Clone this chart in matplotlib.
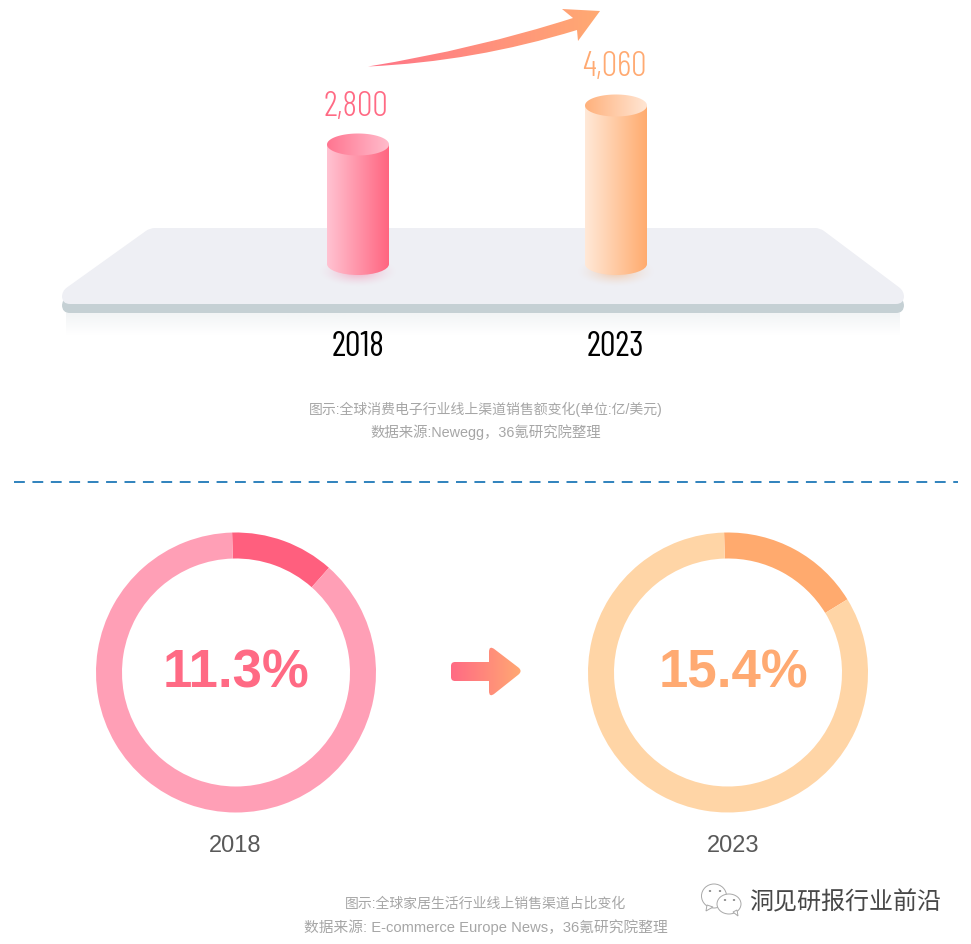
#!/usr/bin/python3

import numpy as np
import matplotlib
matplotlib.use('Agg')
import matplotlib.pyplot as plt
from matplotlib.patches import PathPatch, Ellipse, Polygon
from matplotlib.path import Path
from matplotlib.colors import LinearSegmentedColormap, to_rgb
from matplotlib import font_manager

W, H = 971, 945

# data
years = ['2018', '2023']
sales = [2800, 4060]
sales_labels = ['2,800', '4,060']
share_labels = ['11.3%', '15.4%']
# ring sizes as they are drawn in the picture
ring_share = [12.0, 16.7]

caption_top = ['图示:全球消费电子行业线上渠道销售额变化(单位:亿/美元)', '数据来源:Newegg，36氪研究院整理']
caption_bottom = ['图示:全球家居生活行业线上销售渠道占比变化', '数据来源: E-commerce Europe News，36氪研究院整理']
watermark = '洞见研报行业前沿'

PINK = '#ff6a84'
ORANGE = '#ffaa72'

names = {f.name for f in font_manager.fontManager.ttflist}
narrow = 'Barlow Condensed' if 'Barlow Condensed' in names else 'Roboto'
cjk = ['Liberation Sans', 'Noto Sans CJK SC', 'DejaVu Sans']


def rounded(points, radius):
    # closed polygon with quadratic corners, one radius per corner
    pts = np.array(points, float)
    n = len(pts)
    verts, codes = [], []
    for i in range(n):
        p, prev, nxt = pts[i], pts[i - 1], pts[(i + 1) % n]
        a = p + (prev - p) / np.linalg.norm(prev - p) * radius[i]
        b = p + (nxt - p) / np.linalg.norm(nxt - p) * radius[i]
        verts += [a, p, b]
        codes += [Path.LINETO if i else Path.MOVETO, Path.CURVE3, Path.CURVE3]
    verts.append(verts[0])
    codes.append(Path.CLOSEPOLY)
    return Path(verts, codes)


def hgrad(ax, path, x0, x1, y0, y1, colors, z):
    # horizontal gradient clipped to a path
    cmap = LinearSegmentedColormap.from_list('g', colors)
    im = ax.imshow(np.linspace(0, 1, 256).reshape(1, -1), cmap=cmap, aspect='auto',
                   extent=(x0, x1, y1, y0), zorder=z, interpolation='bilinear')
    patch = PathPatch(path, transform=ax.transData, fc='none', ec='none')
    ax.add_patch(patch)
    im.set_clip_path(patch)


def soft_shadow(ax, x0, x1, y0, y1, color, alpha, z):
    # blurred blob, fades out to all sides
    xs = np.linspace(-1, 1, 200)
    ys = np.linspace(-1, 1, 60)
    gx, gy = np.meshgrid(xs, ys)
    a = np.clip(1 - np.sqrt(gx ** 2 + gy ** 2), 0, 1) ** 1.5 * alpha
    img = np.zeros((60, 200, 4))
    img[..., :3] = to_rgb(color)
    img[..., 3] = a
    ax.imshow(img, extent=(x0, x1, y1, y0), aspect='auto', zorder=z, interpolation='bilinear')


def down_fade(ax, x0, x1, y0, y1, color, alpha, z):
    # plain fade from the top edge downwards
    img = np.zeros((40, 2, 4))
    img[..., :3] = to_rgb(color)
    img[..., 3] = np.linspace(alpha, 0, 40)[:, None]
    ax.imshow(img, extent=(x0, x1, y1, y0), aspect='auto', zorder=z)


def cylinder(ax, x0, x1, top, bottom, side, lid, glow):
    cx = (x0 + x1) / 2
    rx = (x1 - x0) / 2
    soft_shadow(ax, x0 - 8, x1 + 8, bottom - 8, bottom + 23, glow, 1.0, 3)
    k = 0.5523
    ry = 11
    verts = [(x0, top), (x1, top), (x1, bottom),
             (x1, bottom + ry * k), (cx + rx * k, bottom + ry), (cx, bottom + ry),
             (cx - rx * k, bottom + ry), (x0, bottom + ry * k), (x0, bottom),
             (x0, top)]
    codes = [Path.MOVETO, Path.LINETO, Path.LINETO,
             Path.CURVE4, Path.CURVE4, Path.CURVE4,
             Path.CURVE4, Path.CURVE4, Path.CURVE4, Path.CLOSEPOLY]
    hgrad(ax, Path(verts, codes), x0, x1, top - 1, bottom + ry + 1, side, 4)
    t = np.linspace(0, 2 * np.pi, 90)
    lid_path = Path(np.c_[cx + rx * np.cos(t), top + ry * np.sin(t)])
    hgrad(ax, lid_path, x0, x1, top - ry - 1, top + ry + 1, lid, 5)


fig = plt.figure(figsize=(W / 100, H / 100), dpi=100, facecolor='white')
ax = fig.add_axes([0, 0, 1, 1])
ax.set_xlim(0, W)
ax.set_ylim(H, 0)
ax.axis('off')

# platform
down_fade(ax, 66, 900, 312, 336, '#dfe5e8', 0.45, 0)
shape = [(150, 229), (820, 229), (904, 292), (904, 305), (62, 305), (62, 292)]
radii = [5, 5, 6, 8, 8, 6]
side = rounded([(x, y + 9) for x, y in shape], radii)
ax.add_patch(PathPatch(side, fc='#c5d0d4', ec='none', zorder=1))
ax.add_patch(PathPatch(rounded(shape, radii), fc='#eeeff4', ec='none', zorder=2))

# cylinders, height read through a linear scale of the sales
bar_x = [(327, 389), (585, 647)]
bar_bottom = 265
scale = (158.5 - 119.5) / (sales[1] - sales[0])
offset = 119.5 - sales[0] * scale
sides = [['#ffc3d2', '#ff6580'], ['#ffe9d8', '#ffab6e']]
lids = [['#ff7590', '#ffbccc'], ['#ffb17c', '#ffe6d4']]
glows = ['#f3a9c4', '#f2c6a6']
text_cols = [PINK, ORANGE]
label_y = [107, 67]
year_x = [358, 615]
for i in range(2):
    bar_top = bar_bottom - (offset + sales[i] * scale)
    cylinder(ax, bar_x[i][0], bar_x[i][1], bar_top, bar_bottom, sides[i], lids[i], glows[i])
    ax.text(sum(bar_x[i]) / 2 - 2, label_y[i], sales_labels[i], color=text_cols[i], fontsize=25,
            family=narrow, weight=300, ha='center', va='center', zorder=6)
    ax.text(year_x[i], 346.5, years[i], color='black', fontsize=25, family=narrow,
            ha='center', va='center', zorder=6)

# curved arrow on top
verts = [(368, 67.5), (476, 50), (573, 19), (562, 10), (600, 12), (578, 42), (577, 31),
         (474, 62.7), (368, 67.5), (368, 67.5)]
codes = [Path.MOVETO, Path.CURVE3, Path.CURVE3, Path.LINETO, Path.LINETO, Path.LINETO, Path.LINETO,
         Path.CURVE3, Path.CURVE3, Path.CLOSEPOLY]
hgrad(ax, Path(verts, codes), 368, 600, 5, 72, ['#ff7488', '#ffaa72'], 5)

for y, s, fs in zip([409, 432], caption_top, [10, 10.4]):
    ax.text(486, y, s, color='#a6a6a6', fontsize=fs, family=cjk, ha='center', va='center')

# dashed divider
ax.plot([14, 958], [482.5, 482.5], color='#1f78b8', lw=1.3, dashes=(6, 4.2))

# middle arrow
arrow = rounded([(451, 663), (489, 663), (489, 646), (523, 672), (489, 699), (489, 682), (451, 682)],
                [4, 0.1, 7, 6, 7, 0.1, 4])
hgrad(ax, arrow, 451, 523, 645, 700, ['#ff6a84', '#ffaa72'], 5)

# rings
ring_cx = [236, 728]
ring_cy = 673.5
ring_r = 140
ring_dark = ['#ff5f7e', '#ffaa6e']
ring_light = ['#ff9fb6', '#ffd5a6']
big_x = [235.5, 733]
small_x = [235.5, 733]
for i in range(2):
    rax = fig.add_axes([(ring_cx[i] - ring_r) / W, 1 - (ring_cy + ring_r) / H,
                        2 * ring_r / W, 2 * ring_r / H])
    rax.pie([ring_share[i], 100 - ring_share[i]], colors=[ring_dark[i], ring_light[i]],
            startangle=91.6, counterclock=False, radius=1,
            wedgeprops={'width': 26 / ring_r, 'linewidth': 0})
    rax.set_xlim(-1, 1)
    rax.set_ylim(-1, 1)
    rax.axis('off')
    ax.text(big_x[i], 674, share_labels[i], color=text_cols[i], fontsize=38, weight='bold',
            family='Liberation Sans', ha='center', va='center')
    ax.text(small_x[i], 846.5, years[i], color='#595959', fontsize=17, family='Liberation Sans',
            ha='center', va='center')

for y, s, fs in zip([904, 927], caption_bottom, [10, 10.6]):
    ax.text(486, y, s, color='#a6a6a6', fontsize=fs, family=cjk, ha='center', va='center')

# wechat mark
line = '#a8a8a8'
ax.add_patch(Ellipse((714, 897), 25, 24, fc='white', ec=line, lw=0.7, zorder=7))
ax.add_patch(Polygon([(707, 906), (706, 912), (713, 908)], fc='white', ec=line, lw=0.7, zorder=7))
ax.add_patch(Ellipse((729, 905), 24, 20, fc='white', ec=line, lw=0.7, zorder=8))
ax.add_patch(Polygon([(733, 913), (738, 917), (737, 911)], fc='white', ec=line, lw=0.7, zorder=8))
for px, py in [(710, 892), (720, 892), (725, 901), (734, 901)]:
    ax.add_patch(Ellipse((px, py), 2.4, 2, fc='#8a8a8a', ec='none', zorder=9))
ax.text(749, 902.5, watermark, color='#484848', fontsize=17.3, family=['Noto Sans CJK SC', 'DejaVu Sans'],
        ha='left', va='center', zorder=9)

ax.set_xlim(0, W)
ax.set_ylim(H, 0)
fig.savefig('out.png', dpi=100, facecolor='white')
